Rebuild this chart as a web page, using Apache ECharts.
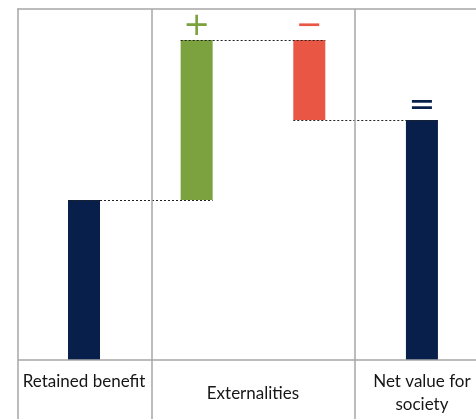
<!DOCTYPE html>
<html>
<head>
<meta charset="utf-8">
<script src="https://cdn.jsdelivr.net/npm/echarts@6/dist/echarts.min.js"></script>
<style>
  html, body { margin: 0; padding: 0; background: #fff; }
  #chart { width: 476px; height: 419px; }
</style>
</head>
<body>
<div id="chart"></div>
<script>
// column headings under the chart (trailing newline keeps first heading on the top row)
var groupLabels = ['Retained benefit\n', 'Externalities', 'Net value for\nsociety'];
// which heading each bar sits under
var barGroup = [0, 1, 1, 2];
// waterfall steps
var barKinds = ['total', 'increase', 'decrease', 'total'];
var barValues = [2, 2, 1, 3];
var barSigns = ['', '+', '\u2212', '='];

var kindColor = { total: '#071f4a', increase: '#7ba23f', decrease: '#ea5644' };
var lineGray = '#a6a6a6';
var halfBar = 16;

// build waterfall bars: [index, low, high, levelAfter]
var bars = [];
var level = 0;
barValues.forEach(function (v, i) {
  var lo, hi;
  if (barKinds[i] === 'total') {
    lo = 0; hi = v; level = v;
  } else if (barKinds[i] === 'increase') {
    lo = level; hi = level + v; level = hi;
  } else {
    lo = level - v; hi = level; level = lo;
  }
  bars.push([i, lo, hi, level]);
});

// dashed connectors between neighbouring bars: [from, to, level]
var connectors = [];
for (var i = 0; i < bars.length - 1; i++) {
  connectors.push([i, i + 1, bars[i][3]]);
}

// heading positions = mean index of the bars in each group
var headingData = groupLabels.map(function (t, g) {
  var idx = [];
  barGroup.forEach(function (gg, i) { if (gg === g) idx.push(i); });
  var sum = idx.reduce(function (a, b) { return a + b; }, 0);
  return [sum / idx.length, g];
});

var chart = echarts.init(document.getElementById('chart'));
var option = {
  animation: false,
  grid: { left: 18, right: 0, top: 9, bottom: 0 },
  xAxis: {
    type: 'value',
    min: -0.586,
    max: 3.48,
    position: 'top',
    axisLine: { show: true, onZero: false, lineStyle: { color: lineGray, width: 1.5 } },
    axisTick: { show: false },
    axisLabel: { show: false },
    splitLine: { show: false }
  },
  yAxis: {
    type: 'value',
    min: -0.7375,
    max: 4.3875,
    axisLine: { show: true, onZero: false, lineStyle: { color: lineGray, width: 1.5 } },
    axisTick: { show: false },
    axisLabel: { show: false },
    splitLine: { show: false }
  },
  series: [
    {
      // table lines + headings
      type: 'custom',
      silent: true,
      data: headingData,
      encode: { x: 0, y: 1 },
      renderItem: function (params, api) {
        var p = api.coord([api.value(0), 0]);
        var text = groupLabels[api.value(1)];
        return {
          type: 'text',
          x: p[0],
          y: p[1] + 33.5,
          style: {
            text: text,
            fill: '#161616',
            font: '17px Lato',
            align: 'center',
            verticalAlign: 'middle',
            textAlign: 'center',
            textVerticalAlign: 'middle',
            lineHeight: 23
          }
        };
      },
      markLine: {
        silent: true,
        symbol: 'none',
        label: { show: false },
        lineStyle: { color: lineGray, width: 1.5, type: 'solid' },
        data: [{ xAxis: 0.6 }, { xAxis: 2.4 }, { yAxis: 0 }]
      }
    },
    {
      // waterfall bars with their sign
      type: 'custom',
      data: bars,
      encode: { x: 0, y: [1, 2] },
      renderItem: function (params, api) {
        var i = api.value(0);
        var top = api.coord([i, api.value(2)]);
        var bottom = api.coord([i, api.value(1)]);
        var color = kindColor[barKinds[i]];
        return {
          type: 'group',
          children: [
            {
              type: 'rect',
              shape: { x: top[0] - halfBar, y: top[1], width: halfBar * 2, height: bottom[1] - top[1] },
              style: { fill: color }
            },
            {
              type: 'text',
              x: top[0],
              y: top[1] - 13,
              style: {
                text: barSigns[i],
                fill: color,
                font: '32px "DejaVu Sans"',
                align: 'center',
                verticalAlign: 'middle',
                textAlign: 'center',
                textVerticalAlign: 'middle'
              }
            }
          ]
        };
      }
    },
    {
      // dashed connectors
      type: 'custom',
      silent: true,
      data: connectors,
      encode: { x: [0, 1], y: 2 },
      renderItem: function (params, api) {
        var a = api.coord([api.value(0), api.value(2)]);
        var b = api.coord([api.value(1), api.value(2)]);
        var y = Math.round(a[1]) + 0.5;
        return {
          type: 'line',
          shape: { x1: a[0] - halfBar, y1: y, x2: b[0] + halfBar, y2: y },
          style: { stroke: '#222', lineWidth: 1, lineDash: [2, 2] }
        };
      }
    }
  ]
};
chart.setOption(option);
</script>
</body>
</html>
